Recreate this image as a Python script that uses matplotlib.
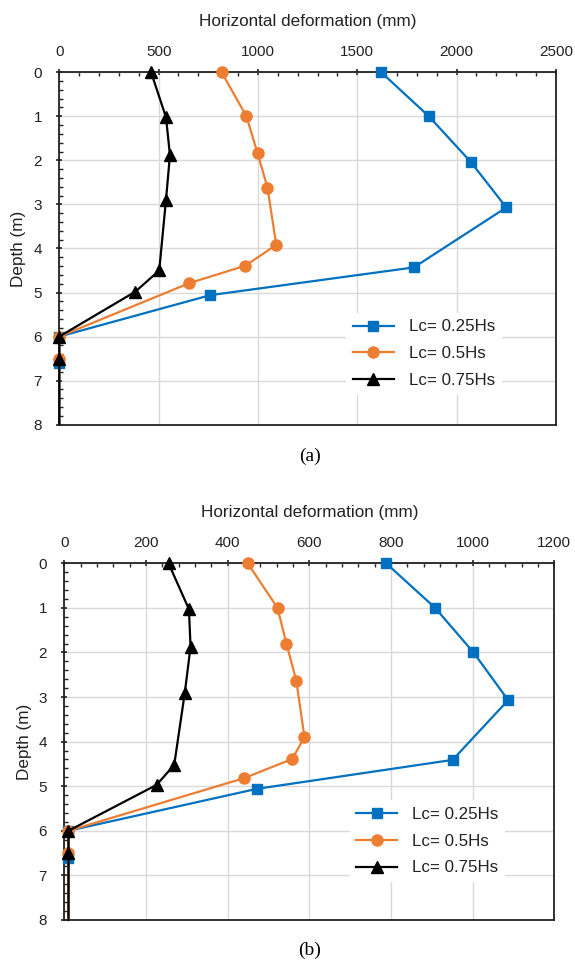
import numpy as np
import matplotlib
matplotlib.use('Agg')
import matplotlib.pyplot as plt
from matplotlib.ticker import MultipleLocator

plt.rcParams['font.family'] = ['Liberation Sans', 'DejaVu Sans']

# 数据 (a)
depth_a_025 = [0, 1.0, 2.03, 3.07, 4.43, 5.06, 6.0, 6.6, 8.0]
defo_a_025 = [1620, 1860, 2070, 2250, 1785, 760, 0, 0, 0]
depth_a_05 = [0, 1.0, 1.84, 2.62, 3.92, 4.39, 4.79, 6.0, 6.5, 8.0]
defo_a_05 = [817, 942, 998, 1048, 1092, 937, 653, 0, 0, 0]
depth_a_075 = [0, 1.02, 1.88, 2.9, 4.5, 4.98, 6.0, 6.5, 8.0]
defo_a_075 = [462, 537, 557, 537, 503, 383, 0, 0, 0]

# 数据 (b)
depth_b_025 = [0, 1.0, 2.0, 3.07, 4.41, 5.06, 6.0, 6.6, 8.0]
defo_b_025 = [788, 908, 1002, 1087, 951, 471, 10, 10, 10]
depth_b_05 = [0, 1.0, 1.81, 2.63, 3.9, 4.39, 4.82, 6.0, 6.5, 8.0]
defo_b_05 = [449, 522, 544, 568, 588, 558, 440, 10, 10, 10]
depth_b_075 = [0, 1.03, 1.87, 2.9, 4.52, 4.97, 6.0, 6.5, 8.0]
defo_b_075 = [255, 305, 309, 295, 269, 226, 10, 10, 10]

labels = ['Lc= 0.25Hs', 'Lc= 0.5Hs', 'Lc= 0.75Hs']
colors = ['#0070C0', '#ED7D31', '#000000']
markers = ['s', 'o', '^']
msizes = [7.5, 8, 8]

fig = plt.figure(figsize=(5.75, 9.63), dpi=100)
ax_a = fig.add_axes([0.1031, 0.559, 0.8638, 0.366])
ax_b = fig.add_axes([0.112, 0.0447, 0.852, 0.3704])


def draw(ax, series, xmax, xmajor, leg_pos):
    for (x, d), lab, c, m, ms in zip(series, labels, colors, markers, msizes):
        ax.plot(x, d, color=c, marker=m, markersize=ms, linewidth=1.6,
                label=lab, clip_on=False, markevery=list(range(len(x) - 1)), zorder=3)
    ax.set_xlim(0, xmax)
    ax.set_ylim(8, 0)
    ax.xaxis.tick_top()
    ax.xaxis.set_label_position('top')
    ax.set_xticks(np.arange(0, xmax + 1, xmajor))
    ax.xaxis.set_minor_locator(MultipleLocator(xmajor / 5))
    ax.set_yticks(range(0, 9))
    ax.yaxis.set_minor_locator(MultipleLocator(0.2))
    ax.tick_params(which='major', direction='inout', length=5, width=1.2,
                   labelsize=11, colors='#222222')
    ax.tick_params(axis='x', which='major', pad=7)
    ax.tick_params(axis='y', which='major', pad=10)
    ax.tick_params(which='minor', direction='in', length=3, width=1.0, color='#222222')
    ax.grid(True, which='major', color='#d9d9d9', linewidth=1.0, zorder=0)
    ax.set_axisbelow(True)
    for s in ax.spines.values():
        s.set_color('#222222')
        s.set_linewidth(1.3)
    ax.set_xlabel('Horizontal deformation (mm)', fontsize=12.3, labelpad=14, color='#222222')
    ax.set_ylabel('Depth (m)', fontsize=12.3, labelpad=5, color='#222222')
    leg = ax.legend(loc='center left', bbox_to_anchor=leg_pos, borderaxespad=0,
                    fontsize=12.2, frameon=True, fancybox=False, edgecolor='none',
                    facecolor='white', framealpha=1, handlelength=2.4,
                    handletextpad=0.9, labelspacing=0.7)
    for t in leg.get_texts():
        t.set_color('#222222')


draw(ax_a, [(defo_a_025, depth_a_025), (defo_a_05, depth_a_05), (defo_a_075, depth_a_075)],
     2500, 500, (0.578, 0.201))
draw(ax_b, [(defo_b_025, depth_b_025), (defo_b_05, depth_b_05), (defo_b_075, depth_b_075)],
     1200, 200, (0.582, 0.221))

fig.text(310 / 575, 1 - 456 / 963, '(a)', ha='center', va='center',
         fontsize=14, family=['Liberation Serif', 'DejaVu Serif'])
fig.text(310 / 575, 1 - 950 / 963, '(b)', ha='center', va='center',
         fontsize=14, family=['Liberation Serif', 'DejaVu Serif'])

fig.savefig('out.png', dpi=100)
